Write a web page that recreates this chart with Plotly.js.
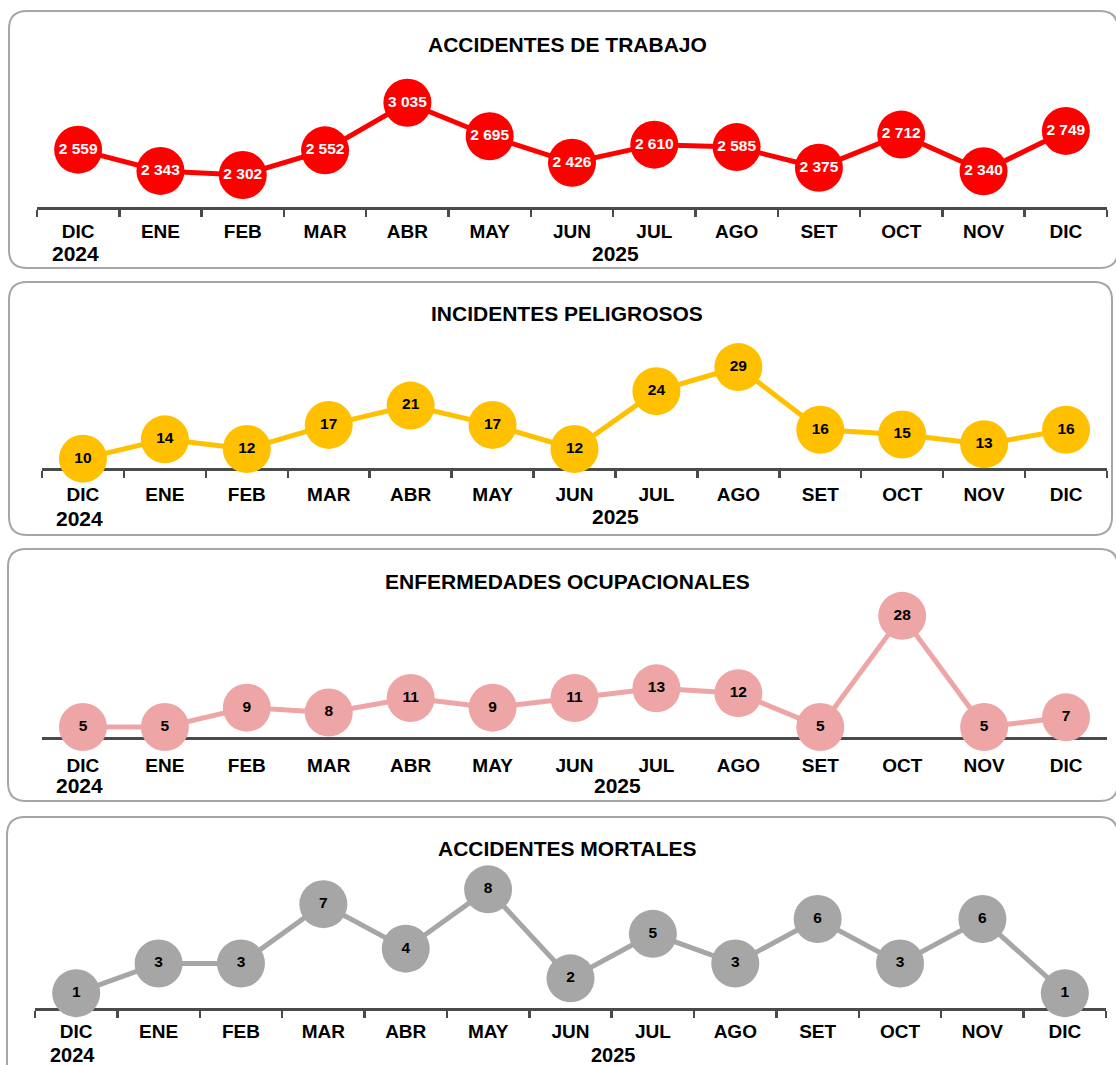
<!DOCTYPE html>
<html>
<head>
<meta charset="utf-8">
<script src="https://cdn.plot.ly/plotly-3.0.1.min.js"></script>
<style>html,body{margin:0;padding:0;background:#fff;}#chart{width:1116px;height:1065px;}</style>
</head>
<body>
<div id="chart"></div>
<script>
// ---- data ----
const months = ['DIC','ENE','FEB','MAR','ABR','MAY','JUN','JUL','AGO','SET','OCT','NOV','DIC'];
const yearLabels = ['2024','2025'];
const titles = ['ACCIDENTES DE TRABAJO','INCIDENTES PELIGROSOS','ENFERMEDADES OCUPACIONALES','ACCIDENTES MORTALES'];
const accidentesTrabajo = [2559,2343,2302,2552,3035,2695,2426,2610,2585,2375,2712,2340,2749];
const incidentesPeligrosos = [10,14,12,17,21,17,12,24,29,16,15,13,16];
const enfermedadesOcupacionales = [5,5,9,8,11,9,11,13,12,5,28,5,7];
const accidentesMortales = [1,3,3,7,4,8,2,5,3,6,3,6,1];

// ---- layout helpers ----
const W = 1116, H = 1065;
const px = x => x / W;
const py = y => 1 - y / H;
const FONT = 'Arial, "Liberation Sans", sans-serif';

const series = [accidentesTrabajo, incidentesPeligrosos, enfermedadesOcupacionales, accidentesMortales];
const panels = [
  {x0:37, x1:1107, axisY:207, topY:67, yr:[1977,3398], color:'#FF0000', txt:'#FFFFFF', titleY:44, box:[9,11,1118,268], ticks:true, standoff:11, ys:21, y24:[75,254], y25:[615,254]},
  {x0:42, x1:1107, axisY:468, topY:328, yr:[8.06,37.1], color:'#FFC000', txt:'#000000', titleY:313, box:[9,282,1112,535], ticks:true, standoff:13, ys:21, y24:[79,518], y25:[615,517]},
  {x0:42, x1:1107, axisY:737, topY:597, yr:[2.93,31.9], color:'#EEA5A5', txt:'#000000', titleY:581, box:[8,549,1118,801], ticks:false, standoff:15, ys:21, y24:[79,785], y25:[617,785]},
  {x0:35, x1:1106, axisY:1008, topY:868, yr:[0,9.44], color:'#A6A6A6', txt:'#000000', titleY:848, box:[7,817,1118,1090], ticks:true, standoff:10, ys:20, y24:[72,1055], y25:[613,1055]}
];

function rr(x0,y0,x1,y1,r){
  const p = (x,y) => px(x)+','+py(y);
  return 'M'+p(x0+r,y0)+' L'+p(x1-r,y0)+' Q'+p(x1,y0)+' '+p(x1,y0+r)+
         ' L'+p(x1,y1-r)+' Q'+p(x1,y1)+' '+p(x1-r,y1)+
         ' L'+p(x0+r,y1)+' Q'+p(x0,y1)+' '+p(x0,y1-r)+
         ' L'+p(x0,y0+r)+' Q'+p(x0,y0)+' '+p(x0+r,y0)+' Z';
}

const idx = months.map((m,i)=>i);
const bounds = months.map((m,i)=>i-0.5).concat([months.length-0.5]);

const traces = [];
const layout = {
  width: W, height: H,
  margin: {l:0,r:0,t:0,b:0},
  paper_bgcolor: '#ffffff', plot_bgcolor: 'rgba(0,0,0,0)',
  showlegend: false,
  separators: '. ',
  font: {family: FONT, color:'#000'},
  shapes: [], annotations: []
};

panels.forEach((p, k) => {
  const n = k + 1;
  const xa = n === 1 ? 'x' : 'x' + n;
  const ya = n === 1 ? 'y' : 'y' + n;
  traces.push({
    type: 'scatter', mode: 'lines+markers+text',
    x: idx, y: series[k], xaxis: xa, yaxis: ya,
    line: {color: p.color, width: 5},
    marker: {color: p.color, size: 48, line: {width: 0}},
    texttemplate: '%{y:,}', textposition: 'middle center',
    textfont: {family: FONT, size: 15.5, color: p.txt, weight: 'bold'},
    cliponaxis: false, hoverinfo: 'skip'
  });
  // primary axis: line + boundary ticks
  layout['xaxis' + (n === 1 ? '' : n)] = {
    domain: [px(p.x0), px(p.x1)], range: [-0.5, months.length - 0.5],
    anchor: ya, showline: true, linecolor: '#4a4a4a', linewidth: 3,
    ticks: p.ticks ? 'outside' : '', ticklen: 7, tickwidth: 2.5, tickcolor: '#4a4a4a',
    tickmode: 'array', tickvals: bounds, showticklabels: false,
    showgrid: false, zeroline: false, fixedrange: true, layer: 'below traces'
  };
  // overlay axis: month labels
  layout['xaxis' + (n + 4)] = {
    overlaying: xa, anchor: ya, side: 'bottom',
    range: [-0.5, months.length - 0.5],
    tickmode: 'array', tickvals: idx, ticktext: months, ticks: '',
    ticklabelstandoff: p.standoff,
    tickfont: {family: FONT, size: 19, color: '#000', weight: 'bold'},
    showline: false, showgrid: false, zeroline: false, fixedrange: true, layer: 'below traces'
  };
  layout['yaxis' + (n === 1 ? '' : n)] = {
    domain: [py(p.axisY), py(p.topY)], range: p.yr, anchor: xa,
    visible: false, showgrid: false, zeroline: false, fixedrange: true
  };
  // rounded frame
  layout.shapes.push({type:'path', xref:'paper', yref:'paper', path: rr(p.box[0],p.box[1],p.box[2],p.box[3],18),
    line:{color:'#A6A6A6', width:2}, layer:'below'});
  // title
  layout.annotations.push({xref:'paper', yref:'paper', x: px(567), y: py(p.titleY), text: titles[k],
    showarrow:false, xanchor:'center', yanchor:'middle', font:{family:FONT, size:21, color:'#000', weight:'bold'}});
  // years
  layout.annotations.push({xref:'paper', yref:'paper', x: px(p.y24[0]), y: py(p.y24[1]), text: yearLabels[0],
    showarrow:false, xanchor:'center', yanchor:'middle', borderpad:0, font:{family:FONT, size:p.ys, color:'#000', weight:'bold'}});
  layout.annotations.push({xref:'paper', yref:'paper', x: px(p.y25[0]), y: py(p.y25[1]), text: yearLabels[1],
    showarrow:false, xanchor:'center', yanchor:'middle', borderpad:0, font:{family:FONT, size:p.ys, color:'#000', weight:'bold'}});
});

// empty traces bound to the overlay label axes so they render
panels.forEach((p, k) => {
  const n = k + 1;
  traces.push({type:'scatter', mode:'none', x:[], y:[], xaxis:'x'+(n+4), yaxis: n===1?'y':'y'+n, hoverinfo:'skip'});
});

Plotly.newPlot('chart', traces, layout, {staticPlot: true, displayModeBar: false});
</script>
</body>
</html>
